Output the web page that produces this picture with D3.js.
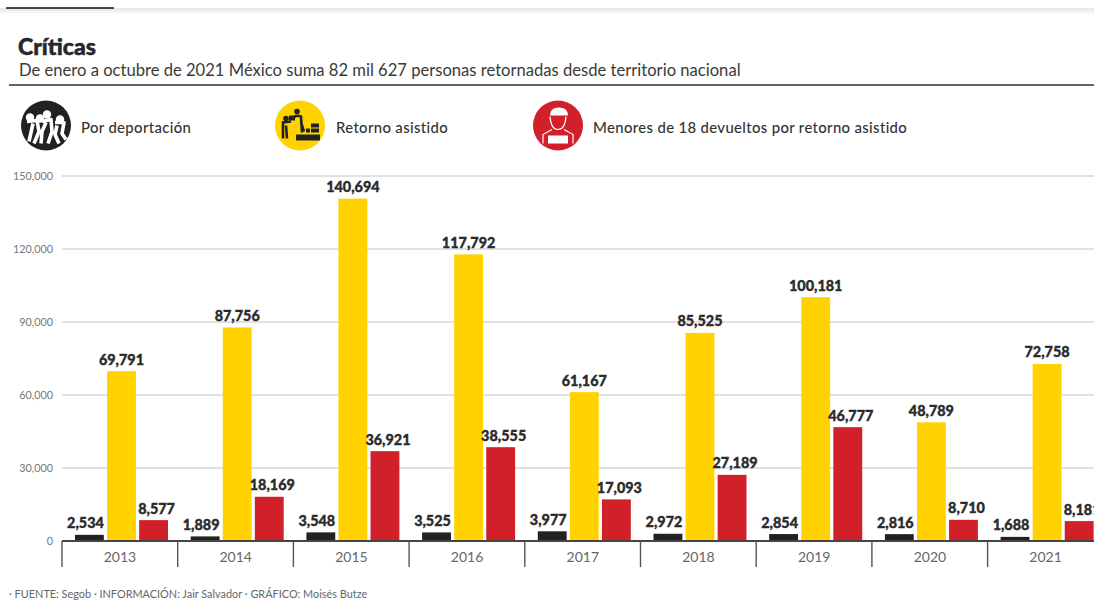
<!DOCTYPE html>
<html><head><meta charset="utf-8">
<script src="https://cdn.jsdelivr.net/npm/d3@7"></script>
<style>html,body{margin:0;padding:0;background:#fff;overflow:hidden}svg{display:block}text{font-family:Lato,"Open Sans",sans-serif}</style>
</head><body><svg id="c" width="1094" height="600"></svg>
<script>
const years=["2013","2014","2015","2016","2017","2018","2019","2020","2021"];
const deportacion=[2534,1889,3548,3525,3977,2972,2854,2816,1688];
const retorno=[69791,87756,140694,117792,61167,85525,100181,48789,72758];
const menores=[8577,18169,36921,38555,17093,27189,46777,8710,8181];
const yTicks=[0,30000,60000,90000,120000,150000];
const seriesNames=["Por deportación","Retorno asistido","Menores de 18 devueltos por retorno asistido"];
const seriesColors=["#222222","#FFD200","#D2202A"];
const title="Críticas";
const subtitle="De enero a octubre de 2021 México suma 82 mil 627 personas retornadas desde territorio nacional";
const source="· FUENTE: Segob · INFORMACIÓN: Jair Salvador · GRÁFICO: Moisés Butze";

const svg=d3.select("#c");
const fmt=d3.format(",");
const y=d3.scaleLinear().domain([0,150000]).range([541,176]);
const x=d3.scaleBand().domain(years).range([62,62+115.7*9]).paddingInner(0).paddingOuter(0);
const inner=d3.scaleBand().domain([0,1,2]).range([13,106]).paddingInner(0.1);

// top strip
const defs=svg.append("defs");
const g0=defs.append("linearGradient").attr("id","strip").attr("x1",0).attr("x2",0).attr("y1",0).attr("y2",1);
g0.append("stop").attr("offset",0).attr("stop-color","#e6e6e6");
g0.append("stop").attr("offset",1).attr("stop-color","#ffffff");
svg.append("rect").attr("x",0).attr("y",8).attr("width",1094).attr("height",7).attr("fill","url(#strip)");
svg.append("line").attr("x1",6).attr("x2",114).attr("y1",8).attr("y2",8).attr("stroke","#111").attr("stroke-width",1.4);

// heading
svg.append("text").attr("x",18).attr("y",55).attr("font-size",23).attr("font-weight",900).attr("fill","#26262c")
  .attr("stroke","#26262c").attr("stroke-width",0.5).text(title);
svg.append("text").attr("x",19).attr("y",76).attr("font-size",16.6).attr("fill","#3a3a3a").text(subtitle);
svg.append("line").attr("x1",9).attr("x2",1094).attr("y1",85).attr("y2",85).attr("stroke","#333").attr("stroke-width",1.5);

// legend
const legX=[46,300,558], legT=[81,336,593];
seriesNames.forEach((n,i)=>{
  const g=svg.append("g").attr("transform",`translate(${legX[i]},125.5)`);
  g.append("circle").attr("r",25).attr("fill",seriesColors[i]);
  if(i===0){
    g.selectAll("circle.h").data([[-16,-8],[1,-11],[14,-6],[-6,-7]]).join("circle")
      .attr("cx",d=>d[0]).attr("cy",d=>d[1]).attr("r",4.2).attr("fill","#fff");
    g.append("path").attr("d","M-19,-4L-9,-5L-7,6L-12,18M-13,-2L-17,16M-4,-4L5,-6L6,6L2,18M0,-3L-4,6L-5,18M9,-3L18,-3L16,8L20,14M11,0L9,9L13,18")
      .attr("fill","none").attr("stroke","#fff").attr("stroke-width",3.6).attr("stroke-linejoin","round");
  } else if(i===1){
    g.append("circle").attr("cx",-14).attr("cy",-7).attr("r",2.8).attr("fill","#222");
    g.append("circle").attr("cx",-3).attr("cy",-14).attr("r",2.8).attr("fill","#222");
    g.append("path").attr("d","M-17,13L-17,-3L-9,-4M-14,0L-13,13M-3,-10L1,-9L2,7M-3,-10L-9,-7M1,-3L4,6")
      .attr("fill","none").attr("stroke","#222").attr("stroke-width",2.6);
    g.append("rect").attr("x",-11).attr("y",-10).attr("width",6).attr("height",5).attr("fill","#222");
    g.append("rect").attr("x",-4).attr("y",9).attr("width",24).attr("height",6).attr("fill","#222");
    g.selectAll("rect.b").data([[6,3],[11,3],[15,3],[11,-2],[15,-2]]).join("rect")
      .attr("x",d=>d[0]).attr("y",d=>d[1]).attr("width",4).attr("height",4).attr("fill","#222");
  } else {
    g.append("path").attr("d","M-8,-10Q-8,-18 1,-18Q10,-18 10,-10Z").attr("fill","#fff");
    g.append("path").attr("d","M-8,-9Q-7,4 0,4Q7,4 8,-9").attr("fill","none").attr("stroke","#fff").attr("stroke-width",1.2);
    g.append("path").attr("d","M-15,18V9L-6,4M15,18V9L6,4").attr("fill","none").attr("stroke","#fff").attr("stroke-width",1.2);
    g.append("rect").attr("x",-10).attr("y",10).attr("width",20).attr("height",8).attr("fill","#fff");
  }
  svg.append("text").attr("x",legT[i]).attr("y",132.5).attr("font-size",14.9).attr("font-weight",500)
    .attr("fill","#333").attr("letter-spacing",0.35).text(n);
});

// y grid + labels
svg.append("g").selectAll("line").data(yTicks.filter(d=>d>0)).join("line")
  .attr("x1",62).attr("x2",1094).attr("y1",d=>y(d)).attr("y2",d=>y(d)).attr("stroke","#c4c4c4").attr("stroke-width",1.2);
svg.append("g").selectAll("text").data(yTicks).join("text")
  .attr("x",53).attr("y",d=>y(d)+3.5).attr("text-anchor","end").attr("font-size",10.8).attr("fill","#777")
  .text(d=>fmt(d));

// bars and value labels
[deportacion,retorno,menores].forEach((vals,s)=>{
  svg.append("g").selectAll("rect").data(vals).join("rect")
    .attr("x",(d,i)=>x(years[i])+inner(s)).attr("width",inner.bandwidth())
    .attr("y",d=>y(d)).attr("height",d=>y(0)-y(d)).attr("fill",seriesColors[s]);
  svg.append("g").selectAll("text").data(vals).join("text")
    .attr("x",(d,i)=>x(years[i])+inner(s)+inner.bandwidth()/2+(s===0?-4:s===2?3:0))
    .attr("y",d=>y(d)-6.5).attr("text-anchor","middle").attr("font-size",14.4).attr("font-weight",900)
    .attr("fill","#2b2b2b").attr("stroke","#2b2b2b").attr("stroke-width",0.35).text(d=>fmt(d));
});

// axis: baseline, dividers, years
svg.append("line").attr("x1",62).attr("x2",1094).attr("y1",y(0)).attr("y2",y(0)).attr("stroke","#444").attr("stroke-width",2);
svg.append("g").selectAll("line").data(years).join("line")
  .attr("x1",d=>x(d)).attr("x2",d=>x(d)).attr("y1",y(0)).attr("y2",567).attr("stroke","#555").attr("stroke-width",1.4);
svg.append("g").selectAll("text").data(years).join("text")
  .attr("x",d=>x(d)+58).attr("y",562).attr("text-anchor","middle").attr("font-size",14).attr("fill","#666").text(d=>d);

svg.append("text").attr("x",9).attr("y",598).attr("font-size",10.9).attr("fill","#666").text(source);
</script></body></html>
